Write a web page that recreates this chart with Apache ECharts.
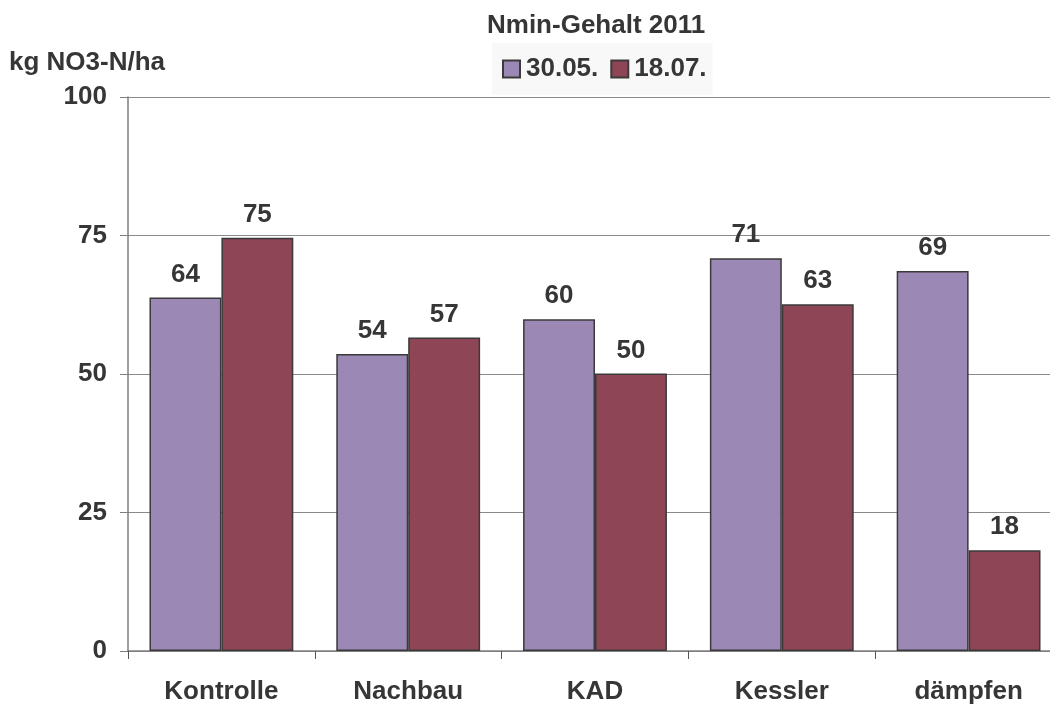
<!DOCTYPE html>
<html>
<head>
<meta charset="utf-8">
<title>Nmin-Gehalt 2011</title>
<script src="https://cdn.jsdelivr.net/npm/echarts@6/dist/echarts.min.js"></script>
<style>
  html, body { margin: 0; padding: 0; background: #fff; }
  #chart { width: 1050px; height: 704px; }
</style>
</head>
<body>
<div id="chart"></div>
<script>
// Nmin-Gehalt 2011, kg NO3-N/ha
var categories = ['Kontrolle', 'Nachbau', 'KAD', 'Kessler', 'dämpfen'];
var seriesNames = ['30.05.', '18.07.'];
var may30 = [63.8, 53.6, 59.9, 70.9, 68.6];
var jul18 = [74.6, 56.6, 50.1, 62.6, 18.2];
var yTicks = [0, 25, 50, 75, 100];

var font = 'Liberation Sans, Arial, sans-serif';
var textColor = '#363636';
var fs = 26;

var chart = echarts.init(document.getElementById('chart'));

function barLabel() {
    return {
        show: true,
        position: 'top',
        distance: 10,
        fontFamily: font,
        fontWeight: 'bold',
        fontSize: fs,
        color: textColor,
        formatter: function (p) { return Math.round(p.value); }
    };
}

chart.setOption({
    animation: false,
    title: [{
        text: 'Nmin-Gehalt 2011',
        left: 487,
        top: 13,
        padding: 0,
        textStyle: { fontFamily: font, fontWeight: 'bold', fontSize: fs, color: textColor }
    }, {
        text: 'kg NO3-N/ha',
        left: 9,
        top: 50,
        padding: 0,
        textStyle: { fontFamily: font, fontWeight: 'bold', fontSize: fs, color: textColor }
    }],
    legend: {
        data: seriesNames,
        left: 492,
        top: 43,
        padding: [13, 6, 13, 10],
        backgroundColor: '#f8f8f8',
        itemWidth: 17,
        itemHeight: 17,
        itemGap: 12,
        icon: 'rect',
        textStyle: { fontFamily: font, fontWeight: 'bold', fontSize: fs, color: textColor, padding: [0, 0, 0, 1] }
    },
    grid: {
        left: 128,
        top: 97,
        width: 934,
        bottom: 53,
        outerBoundsMode: 'none'
    },
    xAxis: {
        type: 'category',
        data: categories,
        axisLine: { lineStyle: { color: '#7f7f7f', width: 1.5 } },
        axisTick: { show: true, length: 8, lineStyle: { color: '#555' } },
        axisLabel: { margin: 28, fontFamily: font, fontWeight: 'bold', fontSize: fs, color: textColor }
    },
    yAxis: {
        type: 'value',
        min: yTicks[0],
        max: yTicks[yTicks.length - 1],
        interval: 25,
        axisLine: { show: true, lineStyle: { color: '#7f7f7f', width: 1.5 } },
        axisTick: { show: true, length: 8, lineStyle: { color: '#7f7f7f' } },
        splitLine: { lineStyle: { color: '#8a8a8a', width: 1.2 } },
        axisLabel: { margin: 21, fontFamily: font, fontWeight: 'bold', fontSize: fs, color: textColor }
    },
    series: [{
        name: seriesNames[0],
        type: 'bar',
        data: may30,
        barGap: '0%',
        barCategoryGap: '23%',
        itemStyle: { color: '#9c88b4', borderColor: '#3a3a3a', borderWidth: 1.5 },
        label: barLabel()
    }, {
        name: seriesNames[1],
        type: 'bar',
        data: jul18,
        barGap: '0%',
        barCategoryGap: '23%',
        itemStyle: { color: '#8e4556', borderColor: '#3a3a3a', borderWidth: 1.5 },
        label: barLabel()
    }]
});
</script>
</body>
</html>
